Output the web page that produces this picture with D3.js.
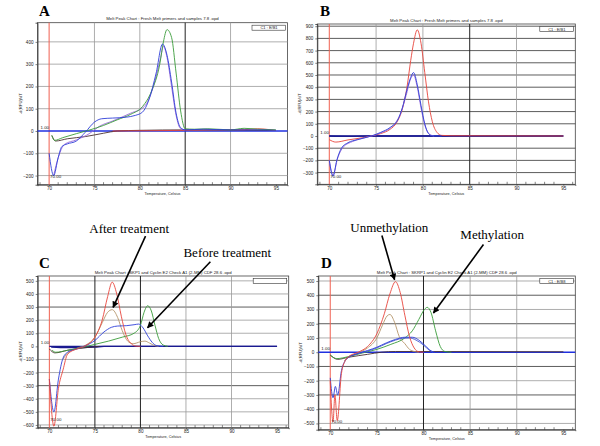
<!DOCTYPE html>
<html>
<head>
<meta charset="utf-8">
<script src="https://cdn.jsdelivr.net/npm/d3@7"></script>
<style>
  body { margin: 0; background: #fff; }
</style>
</head>
<body>
<svg id="fig" width="600" height="446" font-family="Arial, 'Liberation Sans', sans-serif"></svg>
<script>
// ---- data: [temperature °C, -d(RFU)/dT] ----
const xTicks = [70, 75, 80, 85, 90, 95];
const xGrid = [75, 80, 85, 90];

// panel A
const aTicks = [-200, -100, 0, 100, 200, 300, 400];
const aBlue = [[70,-100],[70.5,-200],[71,-120],[71.4,-70],[72,-58],[73,-45],[74,-5],[75,40],[75.8,55],[77,58],[78.5,62],[79.5,70],[80.3,85],[81,140],[81.8,260],[82.5,390],[83,340],[83.5,220],[84,80],[84.5,15],[85,5],[87,8],[90,5],[93,5],[95,3]];
const aGreen = [[70.3,-20],[70.6,-42],[71.5,-30],[73,-12],[74.5,5],[76,25],[77.5,50],[79,75],[80.3,110],[81.3,180],[82.2,300],[82.6,400],[83,455],[83.5,420],[84,260],[84.5,90],[85,10],[86,8],[87.5,10],[90,5],[91.5,12],[93,8],[95,5]];
const aPurple = [[70.5,-200],[71,-120],[71.7,-60],[73,-40],[74.5,-10],[75.5,20],[77,45],[79,80],[80.5,110],[81.5,200],[82.3,330],[82.6,380],[83,330],[83.5,200],[84,70],[84.5,10],[85,5]];
const aDark = [[70.3,-20],[70.7,-45],[72,-35],[74,-25],[76,-10],[77.5,0],[80,3],[85,5],[95,3]];
const aRed = [[77,0],[85,3],[88,5],[91.5,6],[93,10],[94.5,5],[95,2]];

// panel B
const bTicks = [-300, -200, -100, 0, 100, 200, 300, 400, 500, 600, 700, 800, 900];
const bRed = [[70,-30],[70.7,-50],[72,-32],[73.5,-15],[74.5,0],[75.5,20],[76.5,55],[77.2,110],[77.8,220],[78.3,400],[78.7,620],[79,760],[79.4,870],[79.8,760],[80.2,520],[80.6,280],[81,120],[81.5,30],[82,5],[83,2],[95,0]];
const bBlue = [[70,-200],[70.4,-330],[70.8,-200],[71.3,-100],[72,-55],[73,-30],[74.5,0],[75.5,30],[76.5,70],[77.3,130],[77.8,230],[78.3,380],[78.7,480],[79,520],[79.4,420],[79.8,250],[80.2,100],[80.6,20],[81,2],[82,0]];
const bPurple = [[70,-200],[70.4,-320],[70.9,-180],[71.5,-90],[72.5,-45],[74,-10],[75.5,25],[76.8,85],[77.6,180],[78.2,330],[78.7,470],[79,500],[79.4,400],[79.8,230],[80.2,90],[80.7,15],[81.2,0]];
const bBase = [[70,0],[72,-3],[75,0],[95,0]];

// panel C
const cTicks = [-600, -500, -400, -300, -200, -100, 0, 100, 200, 300, 400, 500];
const cRed = [[70,-250],[70.5,-610],[71,-320],[71.5,-180],[72,-60],[73,-20],[74,5],[75,70],[75.8,200],[76.4,380],[76.9,490],[77.4,400],[77.9,230],[78.4,90],[79,20],[79.5,2],[80,0]];
const cOlive = [[71.5,-100],[72,-50],[73,-15],[74,10],[75,70],[75.8,180],[76.4,260],[76.9,280],[77.5,220],[78,120],[78.6,40],[79.2,20],[80,35],[80.5,40],[81,25],[81.6,5],[82,0]];
const cBlue = [[70,-250],[70.5,-500],[71,-250],[71.5,-90],[72,-45],[73,-20],[74,5],[75,45],[76,110],[76.8,145],[77.5,155],[78.5,158],[79.3,165],[79.8,170],[80.3,140],[80.8,80],[81.3,30],[81.8,5],[82.5,0]];
const cGreen = [[70.3,-30],[70.7,-45],[72,-30],[73.5,-10],[75,15],[76.5,40],[78,70],[79.3,100],[80,160],[80.4,260],[80.8,310],[81.2,270],[81.6,160],[82,60],[82.5,10],[83,0]];
const cDark = [[70,-20],[70.6,-50],[72,-30],[74,-10],[75.5,0]];
const cBase = [[70.2,-5],[72,-10],[75,-5],[76,0],[95,0]];

// panel D
const dTicks = [-500, -400, -300, -200, -100, 0, 100, 200, 300, 400, 500];
const dRed = [[70,-200],[70.3,-490],[70.5,-300],[70.75,-480],[71.2,-150],[71.6,-60],[72,-30],[73,0],[74,40],[75,130],[75.8,270],[76.4,410],[77,495],[77.5,420],[78,260],[78.5,110],[79,30],[79.5,3],[80,0]];
const dOlive = [[71.5,-60],[72,-35],[73,-5],[74,30],[75,100],[75.6,190],[76.1,255],[76.4,265],[76.9,210],[77.4,110],[78,60],[78.5,20],[79,5],[79.5,0]];
const dGreen = [[70,-20],[70.7,-45],[72,-30],[73.5,-5],[75,20],[76.5,55],[78,100],[78.8,150],[79.5,230],[80.1,300],[80.4,315],[80.8,280],[81.3,150],[81.8,40],[82.3,5],[83,0]];
const dBlue = [[70,-180],[70.3,-320],[70.55,-240],[70.8,-300],[71.2,-130],[71.6,-60],[72,-35],[73,-8],[74,12],[75,35],[76,65],[77,90],[78,105],[78.8,105],[79.5,85],[80.2,45],[80.8,10],[81.2,0]];
const dBlue2 = [[72,-30],[73,-10],[74,8],[75,30],[76,60],[77,85],[77.8,98],[78.5,100],[79.2,85],[80,50],[80.6,15],[81,0]];
const dDark = [[70,-20],[70.8,-50],[72,-35],[74,-15],[75.5,0],[77,5],[95,3]];

// annotations: tip, tail and label in data coords
const cNotes = [
  { text: 'After treatment', tip: [77.0, 298], tail: [80.56, 842], at: [78.76, 867] },
  { text: 'Before treatment', tip: [80.78, 142], tail: [87.68, 646], at: [89.54, 684] }
];
const dNotes = [
  { text: 'Unmethylation', tip: [76.9, 509], tail: [75.54, 819], at: [76.33, 842] },
  { text: 'Methylation', tip: [81.07, 275], tail: [86.43, 756], at: [87.36, 798] }
];

const RED = '#e8453c', BLUE = '#2f3fd8', GREEN = '#3a9c3a', PURPLE = '#9a6ad8',
      OLIVE = '#b4946a', DARK = '#4a3030', NAVY = '#1a1a90';
const SERIF = '"Liberation Serif", "Times New Roman", serif';

const panels = [
  {
    letter: 'A', letterPos: [39, 16],
    box: { l: 37.5, r: 287.5, t: 22.7, b: 184.7 }, yDom: [-241, 486], yTicks: aTicks,
    title: 'Melt Peak Chart : Fresh Melt primers and samples 7.8 .opd', legend: 'C1 : E/B1',
    fullThreshold: true, darkH: [], darkV: [85],
    series: [
      { d: aDark, c: DARK }, { d: aRed, c: RED }, { d: aPurple, c: PURPLE },
      { d: aGreen, c: GREEN }, { d: aBlue, c: BLUE }
    ]
  },
  {
    letter: 'B', letterPos: [320, 16],
    box: { l: 317.3, r: 575.3, t: 24, b: 184.3 }, yDom: [-396, 918], yTicks: bTicks,
    title: 'Melt Peak Chart : Fresh Melt primers and samples 7.8 .opd', legend: 'C1 : E/B1',
    fullThreshold: false, darkH: [-300, -200, -100, 100, 200, 300, 400, 500, 600, 700, 800, 900], darkV: [85],
    series: [
      { d: bBase, c: NAVY, w: 1.4 }, { d: bRed, c: RED }, { d: bPurple, c: PURPLE }, { d: bBlue, c: BLUE }
    ]
  },
  {
    letter: 'C', letterPos: [39, 268],
    box: { l: 37.7, r: 288.7, t: 276, b: 427.7 }, yDom: [-621, 537], yTicks: cTicks,
    title: 'Melt Peak Chart : SKP1 and Cyclin E2 Check   A1 (2-MM) CDF 28.6 .opd', legend: '',
    fullThreshold: false, darkH: [300, -300], darkV: [75, 80],
    series: [
      { d: cBase, c: NAVY, w: 1.4 }, { d: cDark, c: DARK }, { d: cOlive, c: OLIVE },
      { d: cGreen, c: GREEN }, { d: cBlue, c: BLUE }, { d: cRed, c: RED }
    ],
    notes: cNotes
  },
  {
    letter: 'D', letterPos: [321, 268],
    box: { l: 318.3, r: 575.3, t: 276, b: 429.7 }, yDom: [-544, 535], yTicks: dTicks,
    title: 'Melt Peak Chart : SKRP1 and Cyclin E2 Check   A1 (2-MM) CDF 28.6 .opd', legend: 'C1 : E/B8',
    fullThreshold: true, darkH: [400, 200, -100, -300, -400], darkV: [80],
    series: [
      { d: dDark, c: DARK }, { d: dOlive, c: OLIVE }, { d: dGreen, c: GREEN },
      { d: dBlue2, c: '#4b5bd0' }, { d: dBlue, c: BLUE }, { d: dRed, c: RED }
    ],
    notes: dNotes
  }
];

const svg = d3.select('#fig');
svg.append('defs').append('marker')
    .attr('id', 'head')
    .attr('viewBox', '0 0 10 10')
    .attr('refX', 9).attr('refY', 5)
    .attr('markerWidth', 5).attr('markerHeight', 4)
    .attr('markerUnits', 'strokeWidth')
    .attr('orient', 'auto')
  .append('path')
    .attr('d', 'M0,0 L10,5 L0,10 z')
    .attr('fill', '#000');

panels.forEach(p => drawPanel(p));

function drawPanel(p) {
    const b = p.box;
    const x = d3.scaleLinear().domain([68.72, 96.28]).range([b.l, b.r]);
    const y = d3.scaleLinear().domain(p.yDom).range([b.b, b.t]);
    const g = svg.append('g');

    // frame
    g.append('rect')
        .attr('x', b.l).attr('y', b.t)
        .attr('width', b.r - b.l).attr('height', b.b - b.t)
        .attr('fill', '#fff').attr('stroke', '#444').attr('stroke-width', 0.8);

    // grid
    g.append('g').selectAll('line')
        .data(p.yTicks.filter(v => v !== 0))
        .enter().append('line')
        .attr('x1', b.l).attr('x2', b.r)
        .attr('y1', d => y(d)).attr('y2', d => y(d))
        .attr('stroke', d => p.darkH.includes(d) ? '#333' : '#999')
        .attr('stroke-width', 0.8);
    g.append('g').selectAll('line')
        .data(xGrid)
        .enter().append('line')
        .attr('x1', d => x(d)).attr('x2', d => x(d))
        .attr('y1', b.t).attr('y2', b.b)
        .attr('stroke', d => p.darkV.includes(d) ? '#222' : '#999')
        .attr('stroke-width', d => p.darkV.includes(d) ? 1 : 0.8);

    // axes
    const xAxis = d3.axisBottom(x).tickValues(xTicks).tickSize(1.5).tickPadding(1).tickFormat(d3.format('d'));
    const gx = g.append('g').attr('transform', `translate(0,${b.b})`).call(xAxis);
    const yAxis = d3.axisLeft(y).tickValues(p.yTicks).tickSize(2).tickPadding(2).tickFormat(d3.format('d'));
    const gy = g.append('g').attr('transform', `translate(${b.l},0)`).call(yAxis);
    [gx, gy].forEach(a => {
        a.attr('font-family', null);
        a.selectAll('text').attr('font-size', 4.6).attr('fill', '#222');
        a.selectAll('line').attr('stroke', '#333').attr('stroke-width', 0.6);
        a.select('.domain').attr('stroke', '#333').attr('stroke-width', 0.8);
    });

    // minor ticks along the bottom, one per degree
    g.append('g').selectAll('line')
        .data(d3.range(69, 97).filter(t => t % 5 !== 0))
        .enter().append('line')
        .attr('x1', d => x(d)).attr('x2', d => x(d))
        .attr('y1', b.b).attr('y2', b.b - 2.5)
        .attr('stroke', '#333').attr('stroke-width', 0.6);

    // axis titles and chart title
    g.append('text')
        .attr('x', (b.l + b.r) / 2).attr('y', b.b + 10.5)
        .attr('text-anchor', 'middle').attr('font-size', 3.8).attr('fill', '#222')
        .text('Temperature, Celsius');
    g.append('text')
        .attr('transform', `translate(${b.l - 16},${(b.t + b.b) / 2}) rotate(-90)`)
        .attr('text-anchor', 'middle').attr('font-size', 4.2).attr('fill', '#222')
        .text('-d(RFU)/dT');
    g.append('text')
        .attr('x', (b.l + b.r) / 2).attr('y', b.t - 2.5)
        .attr('text-anchor', 'middle').attr('font-size', 4.3).attr('fill', '#222')
        .text(p.title);

    // legend box
    g.append('rect')
        .attr('x', b.r - 35.5).attr('y', b.t + 2.5)
        .attr('width', 33.5).attr('height', 5)
        .attr('fill', '#fff').attr('stroke', '#333').attr('stroke-width', 0.6);
    g.append('text')
        .attr('x', b.r - 18.5).attr('y', b.t + 6.5)
        .attr('text-anchor', 'middle').attr('font-size', 4).attr('fill', '#222')
        .text(p.legend);

    // red start line at 70 °C
    g.append('line')
        .attr('x1', x(70)).attr('x2', x(70))
        .attr('y1', b.t).attr('y2', b.b)
        .attr('stroke', '#f06050').attr('stroke-width', 1);

    // threshold line
    g.append('line')
        .attr('x1', p.fullThreshold ? b.l : x(70)).attr('x2', p.fullThreshold ? b.r : x(95))
        .attr('y1', y(0)).attr('y2', y(0))
        .attr('stroke', p.fullThreshold ? '#2030e0' : NAVY)
        .attr('stroke-width', 1.4);

    // curves
    const line = d3.line()
        .x(d => x(d[0]))
        .y(d => y(d[1]))
        .curve(d3.curveMonotoneX);
    g.append('g').selectAll('path')
        .data(p.series)
        .enter().append('path')
        .attr('d', s => line(s.d))
        .attr('fill', 'none')
        .attr('stroke', s => s.c)
        .attr('stroke-width', s => s.w || 0.9);

    // small labels
    g.append('text')
        .attr('x', b.l + 3).attr('y', y(0) - 2)
        .attr('font-size', 4.4).attr('fill', '#222')
        .text('1.00');
    g.append('text')
        .attr('x', x(70) + 1).attr('y', b.b - 6.5)
        .attr('font-size', 4.4).attr('fill', '#222')
        .text('70.00');

    // panel letter
    svg.append('text')
        .attr('x', p.letterPos[0]).attr('y', p.letterPos[1])
        .attr('font-family', SERIF)
        .attr('font-weight', 'bold').attr('font-size', 15)
        .text(p.letter);

    // arrows with labels
    (p.notes || []).forEach(n => {
        svg.append('line')
            .attr('x1', x(n.tail[0])).attr('y1', y(n.tail[1]))
            .attr('x2', x(n.tip[0])).attr('y2', y(n.tip[1]))
            .attr('stroke', '#000').attr('stroke-width', 1.6)
            .attr('marker-end', 'url(#head)');
        svg.append('text')
            .attr('x', x(n.at[0])).attr('y', y(n.at[1]))
            .attr('text-anchor', 'middle')
            .attr('font-family', SERIF)
            .attr('font-size', 13)
            .text(n.text);
    });
}
</script>
</body>
</html>
